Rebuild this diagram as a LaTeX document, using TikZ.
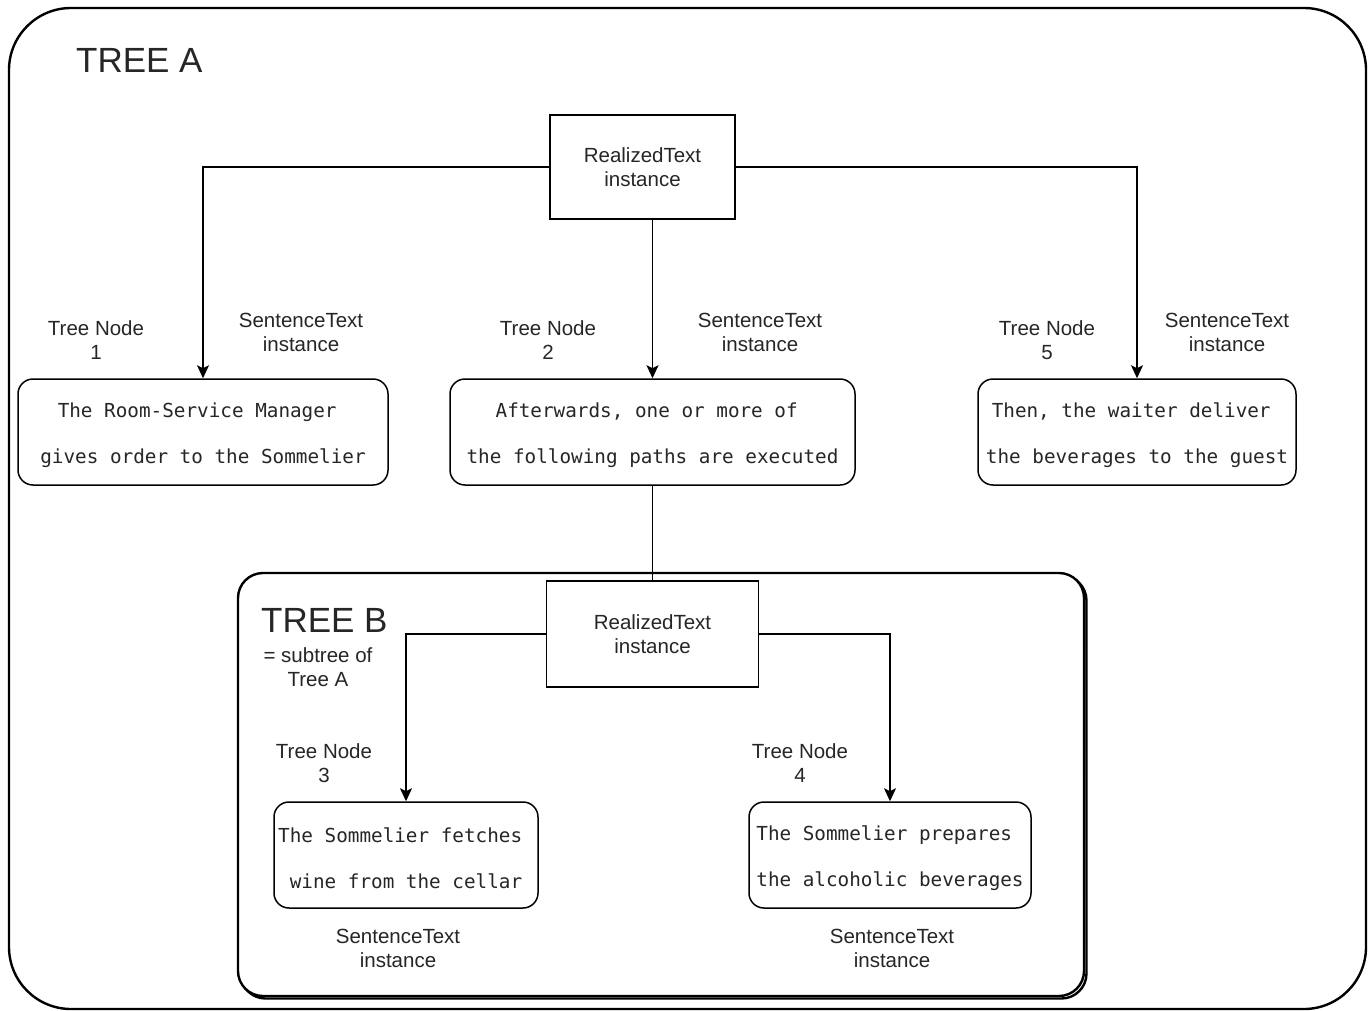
\documentclass[tikz,border=0pt]{standalone}
\usepackage{fontspec}
\setmainfont{Liberation Sans}
\newfontfamily\codefont{DejaVu Sans Mono}
\usetikzlibrary{arrows.meta}
\definecolor{ink}{RGB}{38,38,38}
\definecolor{shade}{RGB}{175,175,175}
\begin{document}
\begin{tikzpicture}[x=1pt,y=-1pt,
  every node/.style={text=ink},
  frame/.style={draw=black,line width=2.4pt},
  instbox/.style={draw=black,line width=1.5pt,fill=white,inner sep=0pt,align=center,
    font=\fontsize{20.5}{24}\selectfont},
  sentbox/.style={draw=black,line width=1.5pt,fill=white,rounded corners=15pt,inner sep=0pt,
    minimum height=106pt},
  codetext/.style={align=center,inner sep=0pt,yshift=-3pt,
    font=\codefont\fontsize{19.3}{46}\selectfont},
  lbl/.style={align=center,inner sep=0pt,font=\fontsize{20.5}{24}\selectfont},
  title/.style={anchor=base west,inner sep=0pt,font=\fontsize{35}{40}\selectfont},
  link/.style={draw=black,line width=1.5pt},
  arrowlink/.style={link,-{Stealth[width=12pt,length=13pt,inset=3pt]}}]
\useasboundingbox (0,0) rectangle (1368,1010);

% outer frame of tree A
\draw[frame,rounded corners=62pt] (9,8) rectangle (1366,1009);
\node[title] (titleA) at (76,72) {TREE A};

% frame of tree B with its shadow
\draw[shade,line width=2.4pt,rounded corners=25pt] (240.5,575.5) rectangle (1086.5,998.5);
\draw[frame,fill=white,rounded corners=25pt] (238,573) rectangle (1084,996);
\node[title] (titleB) at (261,632) {TREE B};
\node[lbl] (subnote) at (318,667) {= subtree of\\Tree A};

% tree A nodes
\node[instbox,minimum width=185pt,minimum height=104pt] (rootA) at (642.5,167)
  {\raisebox{-2pt}{RealizedText}\\\raisebox{-2pt}{instance}};
\node[sentbox,minimum width=370pt,
  label={[codetext]center:{The Room-Service Manager\hphantom{x}\\gives order to the Sommelier}}]
  (n1) at (203,432) {};
\node[sentbox,minimum width=405pt,
  label={[codetext]center:{Afterwards, one or more of\hphantom{x}\\the following paths are executed}}]
  (n2) at (652.5,432) {};
\node[sentbox,minimum width=318pt,
  label={[codetext]center:{Then, the waiter deliver\hphantom{x}\\the beverages to the guest}}]
  (n5) at (1137,432) {};

% tree B nodes
\node[instbox,minimum width=212pt,minimum height=106pt] (rootB) at (652.5,634)
  {\raisebox{-1pt}{RealizedText}\\\raisebox{-1pt}{instance}};
\node[sentbox,minimum width=264pt,
  label={[codetext]center:{The Sommelier fetches\hphantom{x}\\wine from the cellar}}]
  (n3) at (406,855) {};
\node[sentbox,minimum width=282pt,
  label={[codetext]center:{The Sommelier prepares\hphantom{x}\\the alcoholic beverages}}]
  (n4) at (890,855) {};

% labels
\node[lbl] (tn1) at (96,340) {Tree Node\\1};
\node[lbl] (st1) at (301,332) {SentenceText\\instance};
\node[lbl] (tn2) at (548,340) {Tree Node\\2};
\node[lbl] (st2) at (760,332) {SentenceText\\instance};
\node[lbl] (tn5) at (1047,340) {Tree Node\\5};
\node[lbl] (st5) at (1227,332) {SentenceText\\instance};
\node[lbl] (tn3) at (324,763) {Tree Node\\3};
\node[lbl] (tn4) at (800,763) {Tree Node\\4};
\node[lbl] (st3) at (398,948) {SentenceText\\instance};
\node[lbl] (st4) at (892,948) {SentenceText\\instance};

% connectors
\draw[arrowlink] (rootA.west) -| (n1.north);
\draw[arrowlink] (rootA.east) -| (n5.north);
\draw[arrowlink] (n2.north |- rootA.south) -- (n2.north);
\draw[link] (n2.south) -- (rootB.north);
\draw[arrowlink] (rootB.west) -| (n3.north);
\draw[arrowlink] (rootB.east) -| (n4.north);
\end{tikzpicture}
\end{document}
